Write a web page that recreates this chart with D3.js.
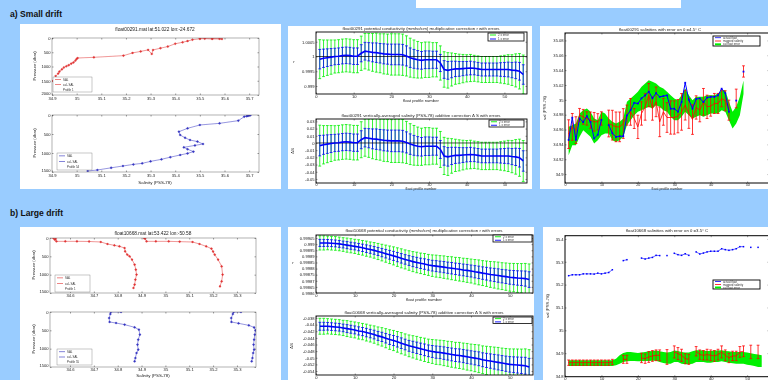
<!DOCTYPE html>
<html><head><meta charset="utf-8">
<title>Float salinity drift: small vs large</title>
<style>
body { margin: 0; background: #99ccff; }
svg { display: block; font-family: "Liberation Sans", Arial, sans-serif; }
.ax text { font-size: 4.1px; fill: #222; font-family: "Liberation Sans", Arial, sans-serif; }
.ax line { stroke: #000; stroke-width: 0.4; }
.sec { font-size: 8.6px; font-weight: bold; fill: #111; }
</style>
<script src="https://cdnjs.cloudflare.com/ajax/libs/d3/7.8.5/d3.min.js"></script>
</head>
<body>
<div id="chart"></div>
<script>
// ---------- profiles (left column) ----------
const salA1 = [34.903,34.91,34.915,34.925,34.93,34.94,34.948,34.958,34.968,34.978,34.987,34.995,35.0,35.004,35.07,35.19,35.227,35.26,35.29,35.305,35.31,35.34,35.37,35.4,35.43,35.45,35.47,35.5,35.52,35.55,35.58,35.59,35.55,35.5];
const presA1 = [1510,1420,1333,1250,1178,1100,1036,990,952,900,857,790,738,702,678,619,524,470,417,560,420,357,300,202,150,107,60,30,24,36,28,36,12,5];
const salA2 = [35.045,35.084,35.14,35.188,35.23,35.266,35.3,35.344,35.38,35.42,35.45,35.474,35.45,35.435,35.48,35.513,35.49,35.46,35.44,35.42,35.415,35.45,35.5,35.58,35.656,35.68,35.695,35.7,35.69,35.705];
const presA2 = [1474,1447,1390,1342,1300,1272,1220,1167,1110,1053,1010,965,900,851,800,763,700,658,600,526,439,351,263,219,149,44,26,10,30,5];

const salB1a = [34.53,34.54,34.536,34.543,34.58,34.629,34.68,34.729,34.757,34.786,34.807,34.829,34.831,34.84,34.85,34.86,34.871,34.876,34.879,34.874,34.871,34.866];
const presB1a = [5,25,45,91,91,91,95,109,164,200,227,273,364,455,500,590,727,864,1000,1136,1272,1364];
const salB1b = [34.911,34.915,34.921,34.96,35.014,35.06,35.114,35.143,35.171,35.193,35.2,35.207,35.221,35.236,35.24,35.236,35.229];
const presB1b = [5,18,91,91,91,100,109,164,227,291,370,455,590,773,1000,1182,1318];
const salB2a = [34.814,34.771,34.769,34.764,34.766,34.793,34.829,34.871,34.889,34.893,34.886,34.883,34.886,34.879,34.874,34.871];
const presB2a = [0,0,55,164,273,300,345,418,482,618,755,891,1027,1118,1255,1345];
const salB2b = [35.317,35.286,35.283,35.276,35.277,35.307,35.35,35.372,35.378,35.375,35.372,35.37,35.372,35.368,35.365,35.362];
const presB2b = [0,0,55,164,273,309,364,420,500,618,755,891,1027,1118,1255,1345];

// ---------- corrections (middle column), profiles 1..55 ----------
const profNo = d3.range(1, 56);
const rA = [0.99991,0.99994,0.99996,0.99998,1.00000,1.00001,1.00003,1.00004,1.00003,1.00001,1.00001,1.00011,1.00018,1.00016,1.00014,1.00013,1.00011,1.00009,1.00008,1.00007,1.00007,1.00007,1.00006,1.00002,0.99996,0.99992,0.99989,0.99987,0.99989,0.99989,0.99989,0.99989,0.99978,0.99956,0.99953,0.99956,0.99958,0.99958,0.99959,0.99960,0.99961,0.99960,0.99958,0.99956,0.99956,0.99956,0.99956,0.99956,0.99956,0.99956,0.99956,0.99954,0.99953,0.99950,0.99939];
const rErrA = [0.00033,0.00031,0.0003,0.00029,0.00028,0.00028,0.00028,0.00028,0.00028,0.00028,0.00028,0.00029,0.0003,0.00031,0.00032,0.00033,0.00033,0.00034,0.00034,0.00035,0.00035,0.00035,0.00035,0.00034,0.00033,0.00032,0.00031,0.0003,0.0003,0.0003,0.00029,0.00029,0.00029,0.0003,0.0003,0.00028,0.00026,0.00025,0.00024,0.00023,0.00023,0.00022,0.00022,0.00022,0.00022,0.00022,0.00022,0.00022,0.00023,0.00024,0.00025,0.00026,0.00028,0.0003,0.00033];
const dsA = [-0.0037,-0.0025,-0.0016,-0.0008,0,0.0004,0.0012,0.0016,0.0012,0.0004,0.0004,0.0045,0.0074,0.0066,0.0057,0.0053,0.0045,0.0037,0.0033,0.0029,0.0029,0.0029,0.0025,0.0008,-0.0016,-0.0033,-0.0045,-0.0053,-0.0045,-0.0045,-0.0045,-0.0045,-0.009,-0.018,-0.0193,-0.018,-0.0172,-0.0172,-0.0168,-0.0164,-0.016,-0.0164,-0.0172,-0.018,-0.018,-0.018,-0.018,-0.018,-0.018,-0.018,-0.018,-0.0189,-0.0193,-0.0205,-0.025];
const dsErrA = [0.0142,0.0133,0.0129,0.0125,0.012,0.012,0.012,0.012,0.012,0.012,0.012,0.0125,0.0129,0.0133,0.0138,0.0142,0.0142,0.0146,0.0146,0.015,0.015,0.015,0.015,0.0146,0.0142,0.0138,0.0133,0.0129,0.0129,0.0129,0.0125,0.0125,0.0125,0.0129,0.0129,0.012,0.0112,0.0108,0.0103,0.0099,0.0099,0.0095,0.0095,0.0095,0.0095,0.0095,0.0095,0.0095,0.0099,0.0103,0.0108,0.0112,0.012,0.0129,0.0142];

const rB = [0.99901,0.99901,0.99901,0.999008,0.999006,0.999002,0.998997,0.998992,0.998987,0.998982,0.998976,0.99897,0.998963,0.998956,0.998949,0.99894,0.998931,0.998922,0.998913,0.998904,0.998894,0.998884,0.998875,0.998866,0.998857,0.99885,0.998843,0.998837,0.99883,0.998824,0.99882,0.998816,0.998812,0.998807,0.998803,0.998798,0.998794,0.998789,0.998785,0.99878,0.998774,0.998769,0.998763,0.998758,0.998752,0.998748,0.998743,0.998738,0.998734,0.998729,0.998726,0.998723,0.998721,0.998718,0.99871];
const rErrB = [0.000029,0.000029,0.000028,0.000028,0.000028,0.000028,0.000028,0.000029,0.000029,0.000029,0.00003,0.00003,0.000031,0.000031,0.000032,0.000033,0.000034,0.000035,0.000036,0.000037,0.000038,0.000039,0.000039,0.00004,0.000041,0.000042,0.000042,0.000043,0.000043,0.000044,0.000045,0.000045,0.000046,0.000046,0.000047,0.000047,0.000048,0.000048,0.000049,0.000049,0.00005,0.000051,0.000051,0.000052,0.000053,0.000054,0.000055,0.000055,0.000056,0.000057,0.000058,0.000059,0.00006,0.000062,0.000064];
const dsB = [-0.0405,-0.0405,-0.0405,-0.0406,-0.0407,-0.0408,-0.041,-0.0412,-0.0414,-0.0416,-0.0419,-0.0421,-0.0424,-0.0427,-0.043,-0.0434,-0.0437,-0.0441,-0.0445,-0.0448,-0.0452,-0.0456,-0.046,-0.0464,-0.0467,-0.047,-0.0473,-0.0476,-0.0479,-0.0481,-0.0483,-0.0484,-0.0486,-0.0488,-0.049,-0.0492,-0.0493,-0.0495,-0.0497,-0.0499,-0.0501,-0.0503,-0.0506,-0.0508,-0.051,-0.0512,-0.0514,-0.0516,-0.0518,-0.052,-0.0521,-0.0522,-0.0523,-0.0524,-0.0528];
const dsErrB = [0.0012,0.0012,0.00115,0.00115,0.00115,0.00115,0.00115,0.0012,0.0012,0.0012,0.00123,0.00123,0.00127,0.00127,0.00131,0.00135,0.00139,0.00144,0.00148,0.00152,0.00156,0.0016,0.0016,0.00164,0.00168,0.00172,0.00172,0.00176,0.00176,0.0018,0.00185,0.00185,0.00189,0.00189,0.00193,0.00193,0.00197,0.00197,0.00201,0.00201,0.00205,0.00209,0.00209,0.00213,0.00217,0.00221,0.00226,0.00226,0.0023,0.00234,0.00238,0.00242,0.00246,0.00254,0.00262];

// ---------- salinities on theta (right column) ----------
const profA = d3.range(1, 50);
const blueA = [34.946,34.976,34.946,34.975,34.970,34.978,34.970,34.948,34.953,34.973,null,34.966,34.955,34.950,34.951,34.951,34.979,34.986,34.996,34.995,35.002,35.006,35.011,35.002,35.009,35.004,35.005,35.006,34.988,34.988,34.984,34.997,35.023,35.000,34.988,35.001,35.002,34.997,35.003,35.004,35.004,35.006,35.015,35.009,34.984,null,34.999,null,35.038];
const redA = [34.9538,34.9636,34.9592,34.9794,34.9771,34.9749,34.9726,34.9704,34.9704,34.9749,null,34.9681,34.9659,34.9636,34.9636,34.9681,34.9794,34.9838,34.9749,34.9636,34.9816,34.9906,35.0063,34.9883,34.9973,34.9704,34.9838,34.9762,34.9762,34.9762,34.978,34.9838,34.9928,34.9816,34.9735,34.9897,34.9861,34.9973,34.9906,34.9915,34.9951,34.9951,35.0018,34.9987,34.9861,null,35.0018,null,35.0382];
const redErrA = [0.0193,0.018,0.018,0.009,0.010,0.009,0.011,0.0126,0.011,0.009,null,0.018,0.020,0.020,0.020,0.020,0.0135,0.018,0.0135,0.0157,0.0157,0.018,0.0157,0.0157,0.020,0.020,0.018,0.020,0.0224,0.0224,0.0224,0.0247,0.020,0.020,0.020,0.0157,0.0157,0.018,0.0157,0.0135,0.0135,0.0135,0.0112,0.0135,0.0135,null,0.0126,null,0.0076];
const greenHiA = [34.9636,34.9659,34.9681,34.9816,34.9861,34.9883,34.9838,34.9749,34.9726,34.9838,34.9816,34.9749,34.9704,34.9681,34.9704,34.9749,34.9973,35.0018,35.0063,35.0108,35.0175,35.022,35.0265,35.0242,35.022,35.0175,35.0153,35.0108,35.0063,35.0018,34.9996,35.0063,35.0153,35.0063,34.9996,35.004,35.004,35.004,35.0063,35.0063,35.0063,35.0085,35.013,35.013,34.9973,34.9838,34.9906,35.004,35.026];
const greenLoA = [34.9255,34.939,34.939,34.9502,34.9592,34.9547,34.9502,34.9412,34.9457,34.9524,34.9547,34.9547,34.9457,34.9434,34.9457,34.9502,34.9659,34.9726,34.9794,34.9838,34.9861,34.9883,34.9906,34.9883,34.9928,34.9906,34.9861,34.9838,34.9771,34.9726,34.9726,34.9771,34.9838,34.9794,34.9749,34.9771,34.9794,34.9771,34.9794,34.9816,34.9816,34.9816,34.9861,34.9838,34.9726,34.9614,34.9681,34.9794,35.008];

const profB = d3.range(1, 55);
const blueB = [35.239,35.243,35.243,35.243,35.247,35.247,35.247,35.246,35.250,35.247,35.250,35.253,35.265,null,null,35.305,35.309,null,null,null,35.316,35.312,35.316,35.319,35.328,35.327,null,35.327,null,35.337,35.331,35.328,35.335,35.328,null,35.343,35.334,35.338,35.343,35.346,35.346,35.346,35.357,35.353,35.350,35.353,35.357,35.366,35.366,null,35.363,null,35.363,null];
const redB = [34.8584,34.8584,34.8584,34.8584,34.8584,34.8584,34.8584,34.8584,34.8584,34.8584,34.8584,34.8584,34.8613,null,null,34.8731,34.8731,null,null,null,34.879,34.876,34.8833,34.8878,34.8907,34.8907,null,34.8833,null,34.9054,34.898,34.8907,34.876,34.8731,null,34.9083,34.8936,34.8907,34.8936,34.8907,34.8878,34.8936,34.9054,34.8907,34.879,34.8878,34.8878,34.9054,34.9083,null,34.9054,null,34.9054,null];
const redErrB = [0.0117,0.0117,0.0117,0.0117,0.0117,0.0117,0.0117,0.0117,0.0117,0.0117,0.0117,0.0117,0.0117,null,null,0.0176,0.0176,null,null,null,0.0205,0.0205,0.0235,0.0235,0.0235,0.0235,null,0.0323,null,0.0264,0.0264,0.0264,0.022,0.022,null,0.0205,0.0205,0.0205,0.0235,0.0235,0.0235,0.0235,0.0264,0.0235,0.0205,0.0205,0.0205,0.0235,0.0235,null,0.0294,null,0.0294,null];
const greenHiB = [34.8687,34.8687,34.8687,34.8687,34.8687,34.8687,34.8687,34.8687,34.8687,34.8687,34.8687,34.8687,34.8687,34.876,34.8907,34.901,34.9054,34.9054,34.9024,34.901,34.9024,34.9054,34.9083,34.9098,34.9112,34.9083,34.9054,34.9024,34.9054,34.9112,34.9098,34.9054,34.9024,34.9024,34.9083,34.9127,34.9127,34.9112,34.9098,34.9098,34.9112,34.9112,34.9127,34.9098,34.9083,34.9054,34.9054,34.9054,34.9054,34.9024,34.8995,34.8966,34.8936,34.8907];
const greenLoB = [34.8437,34.8437,34.8437,34.8437,34.8437,34.8437,34.8437,34.8437,34.8437,34.8437,34.8437,34.8437,34.8437,34.8467,34.854,34.8613,34.8643,34.8657,34.8657,34.8643,34.8643,34.8657,34.8657,34.8672,34.8672,34.8613,34.8569,34.854,34.854,34.8613,34.8613,34.854,34.851,34.851,34.854,34.8613,34.8613,34.8613,34.8584,34.8584,34.8613,34.8613,34.8643,34.8613,34.8584,34.8555,34.854,34.854,34.854,34.8496,34.8467,34.8437,34.8393,34.8393];

// ---------- tick values ----------
const salTicksA = [34.9,35,35.1,35.2,35.3,35.4,35.5,35.6,35.7];
const salTicksB = [34.6,34.7,34.8,34.9,35,35.1,35.2,35.3];
const profTicks = [0,10,20,30,40,50];
const rTicksA = [0.999,0.9995,1,1.0005];
const dsTicksA = [-0.05,-0.04,-0.03,-0.02,-0.01,0,0.01,0.02,0.03];
const rTicksB = [0.9986,0.99865,0.9987,0.99875,0.9988,0.99885,0.9989,0.99895,0.999,0.99905];
const dsTicksB = [-0.054,-0.052,-0.05,-0.048,-0.046,-0.044,-0.042,-0.04,-0.038];
const thTicksA = [34.9,34.92,34.94,34.96,34.98,35,35.02,35.04,35.06,35.08];
const thTicksB = [34.8,34.9,35,35.1,35.2,35.3,35.4];

const BLUE = "#0000ff", GREEN = "#00f000", RED = "#ff0000";

const svg = d3.select("#chart").append("svg").attr("width", 768).attr("height", 380);
const defs = svg.append("defs");
defs.append("filter").attr("id", "soft").append("feGaussianBlur").attr("stdDeviation", 0.3);
svg.append("rect").attr("width", 768).attr("height", 380).attr("fill", "#99ccff");

// white strip at the very top
svg.append("rect").attr("x", 416).attr("y", 0).attr("width", 265).attr("height", 8).attr("fill", "#fff");

svg.append("text").attr("class", "sec").attr("x", 10).attr("y", 17).text("a) Small drift");
svg.append("text").attr("class", "sec").attr("x", 10).attr("y", 216).text("b) Large drift");

function panel(x, y, w, h) {
  svg.append("rect").attr("x", x).attr("y", y).attr("width", w).attr("height", h).attr("fill", "#fff");
  return svg.append("g").attr("filter", "url(#soft)");
}

function label(g, x, y, s, size, rot) {
  const t = g.append("text").attr("x", x).attr("y", y).attr("text-anchor", "middle")
    .attr("font-size", size).attr("fill", "#222").text(s);
  if (rot) t.attr("transform", `rotate(-90,${x},${y})`);
  return t;
}

let nClip = 0;
function axes(g, x, y, o) {
  const [xa, xb] = x.range();
  const ya = Math.min(...y.range()), yb = Math.max(...y.range());
  const fmt = d => String(d);
  const noDomain = s => s.select(".domain").remove();
  const bx = g.append("g").attr("class", "ax").attr("transform", `translate(0,${yb})`)
    .call(d3.axisBottom(x).tickValues(o.xt).tickSize(-o.tk).tickPadding(o.xp == null ? 1.2 : o.xp).tickFormat(fmt)).call(noDomain);
  if (o.xfs) bx.selectAll("text").style("font-size", o.xfs + "px");
  g.append("g").attr("class", "ax").attr("transform", `translate(0,${ya})`)
    .call(d3.axisTop(x).tickValues(o.xt).tickSize(-o.tk).tickFormat("")).call(noDomain);
  const ly = g.append("g").attr("class", "ax").attr("transform", `translate(${xa},0)`)
    .call(d3.axisLeft(y).tickValues(o.yt).tickSize(-o.tk).tickPadding(1.4).tickFormat(fmt)).call(noDomain);
  // pressure axes: lift the bottom corner label clear of the first salinity label
  if (o.liftLast) ly.selectAll(".tick text").filter(d => d === d3.max(o.yt)).attr("dy", "-0.15em");
  g.append("g").attr("class", "ax").attr("transform", `translate(${xb},0)`)
    .call(d3.axisRight(y).tickValues(o.yt).tickSize(-o.tk).tickFormat("")).call(noDomain);
  const id = "clip" + (nClip++);
  defs.append("clipPath").attr("id", id).append("rect")
    .attr("x", xa).attr("y", ya).attr("width", xb - xa).attr("height", yb - ya);
  const plot = g.append("g").attr("clip-path", `url(#${id})`);
  g.append("rect").attr("x", xa).attr("y", ya).attr("width", xb - xa).attr("height", yb - ya)
    .attr("fill", "none").attr("stroke", o.frame || "#000").attr("stroke-width", o.sw);
  return plot;
}

function legend(g, x0, y0, w, h, items, border, bw) {
  g.append("rect").attr("x", x0).attr("y", y0).attr("width", w).attr("height", h)
    .attr("fill", "#fff").attr("stroke", border).attr("stroke-width", bw);
  items.forEach((it, i) => {
    const yy = y0 + (i + 0.5) * h / items.length;
    if (it.color) {
      g.append("line").attr("x1", x0 + 2).attr("x2", x0 + 8).attr("y1", yy).attr("y2", yy)
        .attr("stroke", it.color).attr("stroke-width", it.w || 0.6);
    }
    g.append("text").attr("x", x0 + 10).attr("y", yy + 1).attr("font-size", it.fs || 2.9)
      .attr("fill", "#333").text(it.label);
  });
}

function profile(g, x, y, s, p, color, sym) {
  g.append("path").datum(s.map((v, i) => [v, p[i]]))
    .attr("d", d3.line().x(d => x(d[0])).y(d => y(d[1])))
    .attr("fill", "none").attr("stroke", color).attr("stroke-width", 0.5);
  g.append("g").selectAll("path").data(s.map((v, i) => [v, p[i]])).join("path")
    .attr("transform", d => `translate(${x(d[0])},${y(d[1])})`)
    .attr("d", d3.symbol(sym, 2.2))
    .attr("fill", sym === d3.symbolCross ? color : "none").attr("stroke", color).attr("stroke-width", 0.35);
}

function errBars(g, x, y, xs, m, e, k, color, sw, cap) {
  const idx = xs.map((_, i) => i).filter(i => m[i] != null);
  g.append("g").attr("fill", "none").attr("stroke", color).attr("stroke-width", sw)
    .selectAll("path").data(idx).join("path")
    .attr("d", i => {
      const cx = x(xs[i]), lo = y(m[i] - k * e[i]), hi = y(m[i] + k * e[i]);
      return `M${cx - cap},${lo}H${cx + cap}M${cx},${lo}V${hi}M${cx - cap},${hi}H${cx + cap}`;
    });
}

function seriesLine(g, x, y, xs, ys, color, sw) {
  const line = d3.line().defined((d, i) => ys[i] != null).x((d, i) => x(xs[i])).y((d, i) => y(ys[i]));
  g.append("path").datum(xs).attr("d", line).attr("fill", "none").attr("stroke", color).attr("stroke-width", sw);
}

function squares(g, x, y, xs, ys, color, size) {
  const idx = xs.map((_, i) => i).filter(i => ys[i] != null);
  g.append("g").selectAll("rect").data(idx).join("rect")
    .attr("x", i => x(xs[i]) - size / 2).attr("y", i => y(ys[i]) - size / 2)
    .attr("width", size).attr("height", size).attr("fill", color);
}

// ================= a) left: profiles =================
{
  const g = panel(20, 24, 261, 165);
  label(g, 155, 31, "float00291.mat lat:51.022 lon:-24.672", 4.8);
  const x = d3.scaleLinear().domain([34.9, 35.74]).range([52, 259]);
  const yt = d3.scaleLinear().domain([0, 2000]).range([38, 95]);
  const pt = axes(g, x, yt, {xt: salTicksA, yt: [0,500,1000,1500,2000], tk: 1.5, sw: 0.45, frame: "#555", xp: 1.8, liftLast: true});
  profile(pt, x, yt, salA1, presA1, "#e03030", d3.symbolCross);
  legend(g, 53, 77, 39, 15, [
    {label: "SAL", color: "#e03030"}, {label: "cal- SAL", color: "#e03030"}, {label: "Profile 1"}], "#777", 0.4);
  const yb = d3.scaleLinear().domain([0, 1500]).range([115, 172]);
  const pb = axes(g, x, yb, {xt: salTicksA, yt: [0,500,1000,1500], tk: 1.5, sw: 0.45, frame: "#555", xp: 1.8, liftLast: true});
  profile(pb, x, yb, salA2, presA2, "#3030c0", d3.symbolCross);
  legend(g, 57, 153, 35, 17, [
    {label: "SAL", color: "#3030c0"}, {label: "cal- SAL", color: "#3030c0"}, {label: "Profile 54"}], "#777", 0.4);
  label(g, 36, 66, "Pressure (dbar)", 4.2, true);
  label(g, 36, 143, "Pressure (dbar)", 4.2, true);
  label(g, 155, 184, "Salinity (PSS-78)", 4.4);
}

// ================= a) middle: corrections =================
{
  const g = panel(288, 26, 244, 163);
  const x = d3.scaleLinear().domain([0, 56]).range([316, 527]);
  label(g, 421, 30, "float00291 potential conductivity (mmho/cm) multiplicative correction r with errors", 4.4);
  const yt = d3.scaleLinear().domain([0.99873, 1.00083]).range([94, 32]);
  const pt = axes(g, x, yt, {xt: profTicks, yt: rTicksA, tk: 1.5, sw: 0.9, xp: 0.8});
  errBars(pt, x, yt, profNo, rA, rErrA, 2, GREEN, 0.8, 1.4);
  errBars(pt, x, yt, profNo, rA, rErrA, 1, BLUE, 0.8, 1.4);
  pt.append("line").attr("x1", 316).attr("x2", 527).attr("y1", yt(1)).attr("y2", yt(1)).attr("stroke", "#000").attr("stroke-width", 0.7);
  seriesLine(pt, x, yt, profNo, rA, BLUE, 1.6);
  legend(g, 488, 33, 36, 8, [{label: "2 x error", color: GREEN, w: 0.9}, {label: "1 x error", color: BLUE, w: 0.9}], "#000", 0.8);
  label(g, 421, 102, "float profile number", 4.2);
  label(g, 294, 63, "r", 4.4);

  label(g, 421, 116.5, "float00291 vertically-averaged salinity (PSS-78) additive correction Δ S with errors", 4.4);
  const yb = d3.scaleLinear().domain([-0.0556, 0.0333]).range([183, 119]);
  const pb = axes(g, x, yb, {xt: profTicks, yt: dsTicksA, tk: 1.5, sw: 0.9, xp: 0.2, xfs: 3.6});
  errBars(pb, x, yb, profNo, dsA, dsErrA, 2, GREEN, 0.8, 1.4);
  errBars(pb, x, yb, profNo, dsA, dsErrA, 1, BLUE, 0.8, 1.4);
  pb.append("line").attr("x1", 316).attr("x2", 527).attr("y1", yb(0)).attr("y2", yb(0)).attr("stroke", "#000").attr("stroke-width", 0.7);
  seriesLine(pb, x, yb, profNo, dsA, BLUE, 1.6);
  legend(g, 489, 120, 35, 7, [{label: "2 x error", color: GREEN, w: 0.9}, {label: "1 x error", color: BLUE, w: 0.9}], "#000", 0.8);
  label(g, 421, 189.6, "float profile number", 3.6);
  label(g, 294, 151, "ΔS", 4.4, true);
}

// ================= a) right: salinities on theta =================
{
  const g = panel(540, 26, 228, 163);
  label(g, 660, 30.5, "float00291 salinities with error on θ =4.5° C", 4.3);
  const x = d3.scaleLinear().domain([0, 56]).range([565, 769]);
  const y = d3.scaleLinear().domain([34.888, 35.09]).range([183, 33]);
  const p = axes(g, x, y, {xt: profTicks, yt: thTicksA, tk: 1.5, sw: 1, xp: 0.2, xfs: 3.6});
  p.append("path").datum(profA)
    .attr("d", d3.area().x(n => x(n)).y0((n, i) => y(greenLoA[i])).y1((n, i) => y(greenHiA[i])))
    .attr("fill", GREEN);
  errBars(p, x, y, profA, redA, redErrA, 1, RED, 0.8, 1.4);
  seriesLine(p, x, y, profA, redA, RED, 0.8);
  seriesLine(p, x, y, profA, blueA, BLUE, 1);
  squares(p, x, y, profA, blueA, BLUE, 1.8);
  legend(g, 713, 36, 47, 10, [
    {label: "actual float", color: BLUE, w: 0.8}, {label: "mapped salinity", color: RED, w: 0.8},
    {label: "cal float error", color: GREEN, w: 2}], "#000", 0.9);
  label(g, 667, 189.6, "float profile number", 3.6);
  label(g, 546, 108, "sal (PSS-78)", 4.2, true);
}

// ================= b) left: profiles =================
{
  const g = panel(20, 227, 261, 153);
  label(g, 153, 234.5, "float10668.mat lat:53.422 lon:-50.58", 4.8);
  const x = d3.scaleLinear().domain([34.516, 35.38]).range([50, 256]);
  const yt = d3.scaleLinear().domain([0, 1500]).range([238, 293]);
  const pt = axes(g, x, yt, {xt: salTicksB, yt: [0,500,1000,1500], tk: 1.5, sw: 0.45, frame: "#555", xp: 1.5, liftLast: true});
  profile(pt, x, yt, salB1a, presB1a, "#e03030", d3.symbolCross);
  profile(pt, x, yt, salB1b, presB1b, "#e03030", d3.symbolCross);
  legend(g, 55, 275, 35, 17, [
    {label: "SAL", color: "#e03030"}, {label: "cal- SAL", color: "#e03030"}, {label: "Profile 1"}], "#777", 0.4);
  const yb = d3.scaleLinear().domain([0, 1500]).range([312, 367]);
  const pb = axes(g, x, yb, {xt: salTicksB, yt: [0,500,1000,1500], tk: 1.5, sw: 0.45, frame: "#555", xp: 1.5, liftLast: true});
  profile(pb, x, yb, salB2a, presB2a, "#3030c0", d3.symbolCross);
  profile(pb, x, yb, salB2b, presB2b, "#3030c0", d3.symbolCross);
  legend(g, 57, 349, 35, 16, [
    {label: "SAL", color: "#3030c0"}, {label: "cal- SAL", color: "#3030c0"}, {label: "Profile 55"}], "#777", 0.4);
  label(g, 35, 265, "Pressure (dbar)", 4.2, true);
  label(g, 35, 339, "Pressure (dbar)", 4.2, true);
  label(g, 153, 377.3, "Salinity (PSS-78)", 4.4);
}

// ================= b) middle: corrections =================
{
  const g = panel(288, 227, 246, 153);
  const x = d3.scaleLinear().domain([0, 56]).range([316, 533]);
  label(g, 424, 231.5, "float10668 potential conductivity (mmho/cm) multiplicative correction r with errors", 4.4);
  const yt = d3.scaleLinear().domain([0.9986, 0.999075]).range([293, 235]);
  const pt = axes(g, x, yt, {xt: profTicks, yt: rTicksB, tk: 1.5, sw: 0.9, xp: 0.8});
  errBars(pt, x, yt, profNo, rB, rErrB, 2, GREEN, 0.8, 1.4);
  errBars(pt, x, yt, profNo, rB, rErrB, 1, BLUE, 0.8, 1.4);
  seriesLine(pt, x, yt, profNo, rB, BLUE, 1.6);
  legend(g, 493, 235, 39, 7, [{label: "2 x error", color: GREEN, w: 0.9}, {label: "1 x error", color: BLUE, w: 0.9}], "#000", 0.8);
  label(g, 424, 300.8, "float profile number", 4.2);
  label(g, 293, 264, "r", 4.4);

  label(g, 424, 313.5, "float10668 vertically-averaged salinity (PSS-78) additive correction Δ S with errors", 4.4);
  const yb = d3.scaleLinear().domain([-0.0552, -0.0374]).range([375, 316]);
  const pb = axes(g, x, yb, {xt: profTicks, yt: dsTicksB, tk: 1.5, sw: 0.9, xp: 0.8});
  errBars(pb, x, yb, profNo, dsB, dsErrB, 2, GREEN, 0.8, 1.4);
  errBars(pb, x, yb, profNo, dsB, dsErrB, 1, BLUE, 0.8, 1.4);
  seriesLine(pb, x, yb, profNo, dsB, BLUE, 1.6);
  legend(g, 493, 317, 39, 6.5, [{label: "2 x error", color: GREEN, w: 0.9}, {label: "1 x error", color: BLUE, w: 0.9}], "#000", 0.8);
  label(g, 293, 346, "ΔS", 4.4, true);
}

// ================= b) right: salinities on theta =================
{
  const g = panel(543, 227, 225, 153);
  label(g, 667, 231.5, "float10668 salinities with error on θ =3.5° C", 4.3);
  const x = d3.scaleLinear().domain([0, 56]).range([565, 769]);
  const y = d3.scaleLinear().domain([34.797, 35.414]).range([376.7, 235.7]);
  const p = axes(g, x, y, {xt: profTicks, yt: thTicksB, tk: 1.5, sw: 1, xp: 0.8});
  p.append("path").datum(profB)
    .attr("d", d3.area().x(n => x(n)).y0((n, i) => y(greenLoB[i])).y1((n, i) => y(greenHiB[i])))
    .attr("fill", GREEN);
  errBars(p, x, y, profB, redB, redErrB, 1, RED, 0.8, 1.4);
  seriesLine(p, x, y, profB, redB, RED, 0.8);
  seriesLine(p, x, y, profB, blueB, BLUE, 0.6);
  squares(p, x, y, profB, blueB, BLUE, 1.5);
  legend(g, 713, 280, 47, 9, [
    {label: "actual float", color: BLUE, w: 0.8}, {label: "mapped salinity", color: RED, w: 0.8},
    {label: "cal float error", color: GREEN, w: 2}], "#000", 0.9);
  label(g, 549, 306, "sal (PSS-78)", 4.2, true);
}
</script>
</body>
</html>
